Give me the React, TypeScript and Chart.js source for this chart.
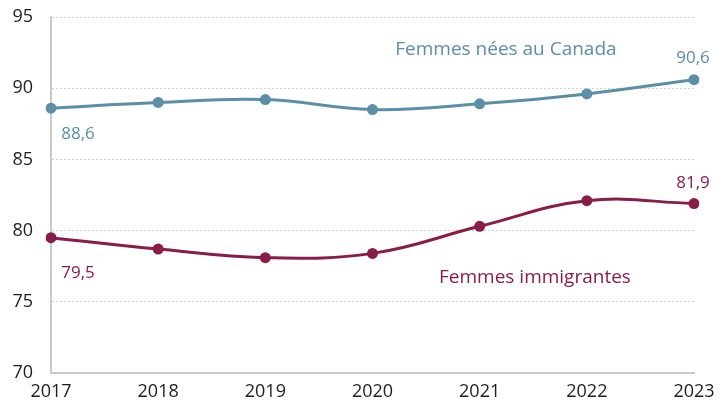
import React, { useEffect, useRef } from "react";
import { Chart, registerables } from "chart.js";

Chart.register(...registerables);

const years = ["2017", "2018", "2019", "2020", "2021", "2022", "2023"];
const canadaBorn = [88.6, 89.0, 89.2, 88.5, 88.9, 89.6, 90.6];
const immigrants = [79.5, 78.7, 78.1, 78.4, 80.3, 82.1, 81.9];
const yTicks = [70, 75, 80, 85, 90, 95];

const blue = "#5b8ea7";
const maroon = "#8a1c4c";
const FONT = "'Open Sans', 'Noto Sans', sans-serif";

const fmt = (v: number) => v.toFixed(1).replace(".", ",");

const labelPlugin = {
  id: "labels",
  afterDatasetsDraw(chart: any) {
    const { ctx, scales } = chart;
    const x = scales.x;
    const y = scales.y;
    ctx.save();
    ctx.font = `17px ${FONT}`;
    ctx.textAlign = "center";
    ctx.textBaseline = "middle";
    const last = years.length - 1;
    ctx.fillStyle = blue;
    ctx.fillText(fmt(canadaBorn[0]), x.getPixelForValue(0) + 27, y.getPixelForValue(canadaBorn[0]) + 26);
    ctx.fillText(fmt(canadaBorn[last]), x.getPixelForValue(last) - 1, y.getPixelForValue(canadaBorn[last]) - 21);
    ctx.fillStyle = maroon;
    ctx.fillText(fmt(immigrants[0]), x.getPixelForValue(0) + 27, y.getPixelForValue(immigrants[0]) + 35);
    ctx.fillText(fmt(immigrants[last]), x.getPixelForValue(last) - 1, y.getPixelForValue(immigrants[last]) - 20);
    ctx.font = `19px ${FONT}`;
    ctx.fillStyle = blue;
    ctx.fillText("Femmes nées au Canada", x.getPixelForValue(4.245), y.getPixelForValue(92.73));
    ctx.fillStyle = maroon;
    ctx.fillText("Femmes immigrantes", x.getPixelForValue(4.516), y.getPixelForValue(76.7));
    ctx.restore();
  },
};

export default function App() {
  const ref = useRef<HTMLCanvasElement>(null);
  useEffect(() => {
    document.body.style.margin = "0";
    const chart = new Chart(ref.current!, {
      type: "line",
      data: {
        labels: years,
        datasets: [
          {
            data: canadaBorn,
            borderColor: blue,
            backgroundColor: blue,
            borderWidth: 3,
            pointRadius: 5.5,
            pointBorderWidth: 0,
            tension: 0.4,
          },
          {
            data: immigrants,
            borderColor: maroon,
            backgroundColor: maroon,
            borderWidth: 3,
            pointRadius: 5.5,
            pointBorderWidth: 0,
            tension: 0.4,
          },
        ],
      },
      options: {
        animation: false,
        responsive: false,
        layout: { padding: { top: 17, right: 32, bottom: 0, left: 0 } },
        plugins: { legend: { display: false }, tooltip: { enabled: false } },
        scales: {
          x: {
            offset: false,
            grid: { display: false, drawTicks: false },
            border: { display: true, color: "#c9c9c9", width: 2 },
            ticks: { color: "#1e1e1e", font: { family: FONT, size: 18 }, padding: 8, maxRotation: 0 },
            afterFit(scale: any) {
              scale.height = 33;
            },
          },
          y: {
            min: 70,
            max: 95,
            afterBuildTicks(scale: any) {
              scale.ticks = yTicks.map((v) => ({ value: v }));
            },
            grid: {
              color: (c: any) => (c.tick && c.tick.value === 70 ? "rgba(0,0,0,0)" : "#d3d3d3"),
              lineWidth: 1,
              drawTicks: false,
            },
            border: { display: true, color: "#c9c9c9", width: 2, dash: [2, 2] },
            ticks: { color: "#1e1e1e", font: { family: FONT, size: 18 }, padding: 18 },
            afterFit(scale: any) {
              scale.width = 51;
              scale.paddingTop = 0;
              scale.paddingBottom = 0;
            },
          },
        },
      },
      plugins: [labelPlugin],
    } as any);
    return () => chart.destroy();
  }, []);
  return <canvas ref={ref} width={726} height={406} style={{ display: "block" }} />;
}
